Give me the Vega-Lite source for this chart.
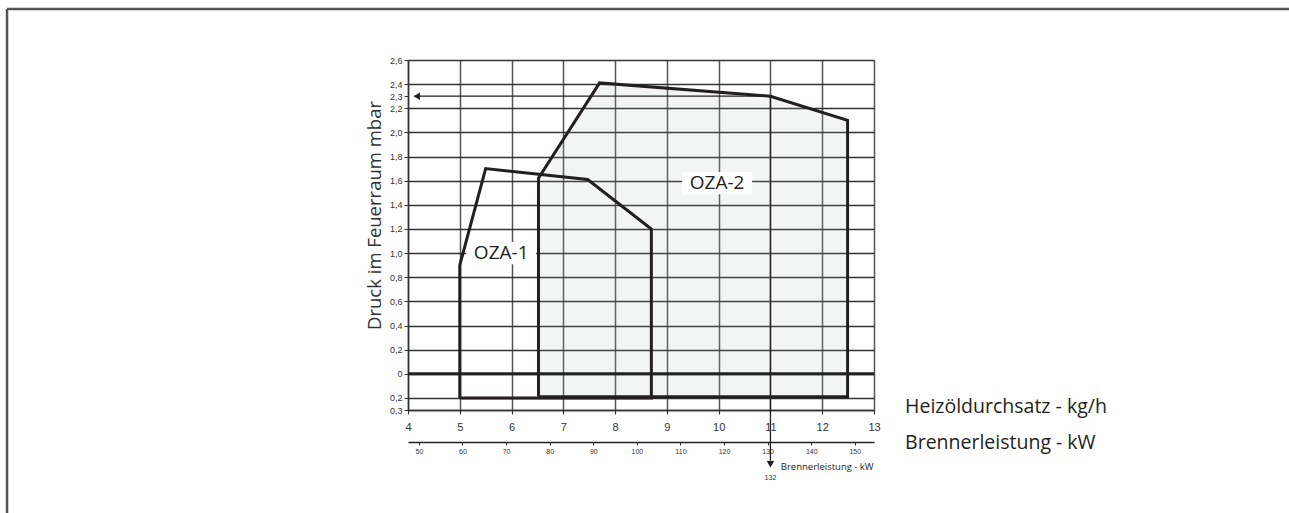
{
  "$schema": "https://vega.github.io/schema/vega-lite/v6.json",
  "width": 466,
  "height": 350,
  "autosize": {"type": "none"},
  "padding": {"left": 408, "top": 60, "right": 415, "bottom": 103},
  "background": "white",
  "view": {"stroke": null},
  "config": {
    "font": "Liberation Sans",
    "axis": {"labelColor": "#333", "tickColor": "#333", "domainColor": "#333", "labelOverlap": false}
  },
  "datasets": {
    "zones": [
      {"zone": "OZA-1", "i": 0, "x": 5.0, "y": -0.2},
      {"zone": "OZA-1", "i": 1, "x": 5.0, "y": 0.9},
      {"zone": "OZA-1", "i": 2, "x": 5.5, "y": 1.7},
      {"zone": "OZA-1", "i": 3, "x": 7.47, "y": 1.61},
      {"zone": "OZA-1", "i": 4, "x": 8.7, "y": 1.2},
      {"zone": "OZA-1", "i": 5, "x": 8.7, "y": -0.2},
      {"zone": "OZA-1", "i": 6, "x": 5.0, "y": -0.2},
      {"zone": "OZA-2", "i": 0, "x": 6.52, "y": -0.19},
      {"zone": "OZA-2", "i": 1, "x": 6.52, "y": 1.62},
      {"zone": "OZA-2", "i": 2, "x": 7.7, "y": 2.41},
      {"zone": "OZA-2", "i": 3, "x": 11.0, "y": 2.3},
      {"zone": "OZA-2", "i": 4, "x": 12.49, "y": 2.1},
      {"zone": "OZA-2", "i": 5, "x": 12.49, "y": -0.19},
      {"zone": "OZA-2", "i": 6, "x": 6.52, "y": -0.19}
    ],
    "fill": [
      {"x": 6.52, "y": 1.62, "y0": -0.19},
      {"x": 7.7, "y": 2.41, "y0": -0.19},
      {"x": 11.0, "y": 2.3, "y0": -0.19},
      {"x": 12.49, "y": 2.1, "y0": -0.19}
    ],
    "labels": [
      {"label": "OZA-1", "x": 5.8, "y": 1.0},
      {"label": "OZA-2", "x": 9.97, "y": 1.58}
    ],
    "arrows": [
      {"x": 11.0, "x2": 4.12, "y": 2.3, "y2": 2.3},
      {"x": 11.0, "x2": 11.0, "y": 2.3, "y2": -0.72}
    ],
    "heads": [
      {"dir": "left", "x": 4.17, "y": 2.3},
      {"dir": "down", "x": 11.0, "y": -0.75}
    ],
    "frame": [
      {"x": -3.744, "x2": -3.744, "y": 3.0226, "y2": -1.4},
      {"x": -3.744, "x2": 21.3, "y": 3.0226, "y2": 3.0226}
    ]
  },
  "layer": [
    {
      "layer": [
        {
          "data": {"name": "fill"},
          "mark": {"type": "area", "color": "#a8b8b8", "opacity": 0.14},
          "encoding": {
            "x": {
              "field": "x", "type": "quantitative",
              "scale": {"domain": [4, 13], "nice": false, "zero": false},
              "axis": {
                "title": null, "values": [4, 5, 6, 7, 8, 9, 10, 11, 12, 13], "tickCount": 100, "format": "d",
                "grid": true, "gridColor": "#555", "gridWidth": 1.5,
                "domainWidth": 1.5, "tickSize": 4, "tickWidth": 1.2,
                "labelFontSize": 11, "labelPadding": 7, "labelFlush": false
              }
            },
            "y": {
              "field": "y", "type": "quantitative",
              "scale": {"domain": [-0.3, 2.6], "nice": false, "zero": false},
              "axis": {
                "title": "Druck im Feuerraum mbar",
                "titleFont": "Open Sans", "titleFontSize": 18.5, "titleFontWeight": "normal",
                "titleColor": "#333", "titlePadding": 5, "titleY": 155,
                "values": [-0.3, -0.2, 0, 0.2, 0.4, 0.6, 0.8, 1.0, 1.2, 1.4, 1.6, 1.8, 2.0, 2.2, 2.3, 2.4, 2.6],
                "tickCount": 100,
                "labelExpr": "datum.value == 0 ? '0' : replace(format(abs(datum.value), '.1f'), '.', ',')",
                "grid": true, "gridColor": "#333", "gridWidth": 1.3,
                "gridOpacity": {"condition": {"test": "datum.value === 2.3", "value": 0}, "value": 1},
                "domainWidth": 1.5, "tickSize": 4, "labelFontSize": 9, "labelPadding": 2
              }
            },
            "y2": {"field": "y0"}
          }
        },
        {
          "data": {"values": [{"y": 0}]},
          "mark": {"type": "rule", "color": "#222", "strokeWidth": 3},
          "encoding": {"y": {"field": "y", "type": "quantitative"}}
        },
        {
          "data": {"name": "labels"},
          "mark": {"type": "point", "filled": true, "color": "white", "opacity": 1, "shape": "M-1,-0.32H1V0.32H-1Z", "size": 4900},
          "encoding": {
            "x": {"field": "x", "type": "quantitative"},
            "y": {"field": "y", "type": "quantitative"}
          }
        },
        {
          "data": {"name": "zones"},
          "mark": {"type": "line", "color": "#231f20", "strokeWidth": 3, "strokeJoin": "miter"},
          "encoding": {
            "x": {"field": "x", "type": "quantitative"},
            "y": {"field": "y", "type": "quantitative"},
            "detail": {"field": "zone"},
            "order": {"field": "i", "type": "quantitative"}
          }
        },
        {
          "data": {"name": "arrows"},
          "mark": {"type": "rule", "color": "#231f20", "strokeWidth": 1.3},
          "encoding": {
            "x": {"field": "x", "type": "quantitative"},
            "x2": {"field": "x2"},
            "y": {"field": "y", "type": "quantitative"},
            "y2": {"field": "y2"}
          }
        },
        {
          "data": {"name": "heads"},
          "mark": {"type": "point", "filled": true, "color": "#231f20", "opacity": 1, "size": 55},
          "encoding": {
            "x": {"field": "x", "type": "quantitative"},
            "y": {"field": "y", "type": "quantitative"},
            "shape": {
              "field": "dir", "type": "nominal", "legend": null,
              "scale": {"domain": ["left", "down"], "range": ["triangle-left", "triangle-down"]}
            }
          }
        },
        {
          "data": {"name": "frame"},
          "mark": {"type": "rule", "color": "#555", "strokeWidth": 2.5},
          "encoding": {
            "x": {"field": "x", "type": "quantitative"},
            "x2": {"field": "x2"},
            "y": {"field": "y", "type": "quantitative"},
            "y2": {"field": "y2"}
          }
        },
        {
          "data": {"name": "labels"},
          "mark": {"type": "text", "font": "Open Sans", "fontSize": 19, "color": "#231f20", "baseline": "middle"},
          "encoding": {
            "x": {"field": "x", "type": "quantitative"},
            "y": {"field": "y", "type": "quantitative"},
            "text": {"field": "label"}
          }
        },
        {
          "data": {"values": [
            {"t": "Heizöldurchsatz - kg/h", "x": 13.6, "y": -0.275},
            {"t": "Brennerleistung - kW", "x": 13.6, "y": -0.573}
          ]},
          "mark": {"type": "text", "font": "Open Sans", "fontSize": 19.5, "color": "#231f20", "align": "left", "baseline": "middle"},
          "encoding": {
            "x": {"field": "x", "type": "quantitative"},
            "y": {"field": "y", "type": "quantitative"},
            "text": {"field": "t"}
          }
        },
        {
          "data": {"values": [{"t": "Brennerleistung - kW", "x": 11.2, "y": -0.772}]},
          "mark": {"type": "text", "font": "Open Sans", "fontSize": 9.5, "color": "#231f20", "align": "left", "baseline": "middle"},
          "encoding": {
            "x": {"field": "x", "type": "quantitative"},
            "y": {"field": "y", "type": "quantitative"},
            "text": {"field": "t"}
          }
        },
        {
          "data": {"values": [{"t": "132", "x": 11.0, "y": -0.86}]},
          "mark": {"type": "text", "fontSize": 7, "color": "#333", "align": "center", "baseline": "middle"},
          "encoding": {
            "x": {"field": "x", "type": "quantitative"},
            "y": {"field": "y", "type": "quantitative"},
            "text": {"field": "t"}
          }
        }
      ]
    },
    {
      "data": {"values": [{"kW": 50}, {"kW": 150}]},
      "mark": {"type": "point", "opacity": 0},
      "encoding": {
        "x": {
          "field": "kW", "type": "quantitative",
          "scale": {"domain": [47.5, 154.4], "nice": false, "zero": false},
          "axis": {
            "orient": "bottom", "offset": 32, "title": null,
            "values": [50, 60, 70, 80, 90, 100, 110, 120, 130, 140, 150], "tickCount": 100, "format": "d",
            "grid": false, "domainWidth": 1.5, "domainColor": "#222",
            "tickSize": 3, "labelFontSize": 7, "labelPadding": 2, "labelFlush": false
          }
        }
      }
    }
  ],
  "resolve": {"scale": {"x": "independent"}, "axis": {"x": "independent"}}
}
